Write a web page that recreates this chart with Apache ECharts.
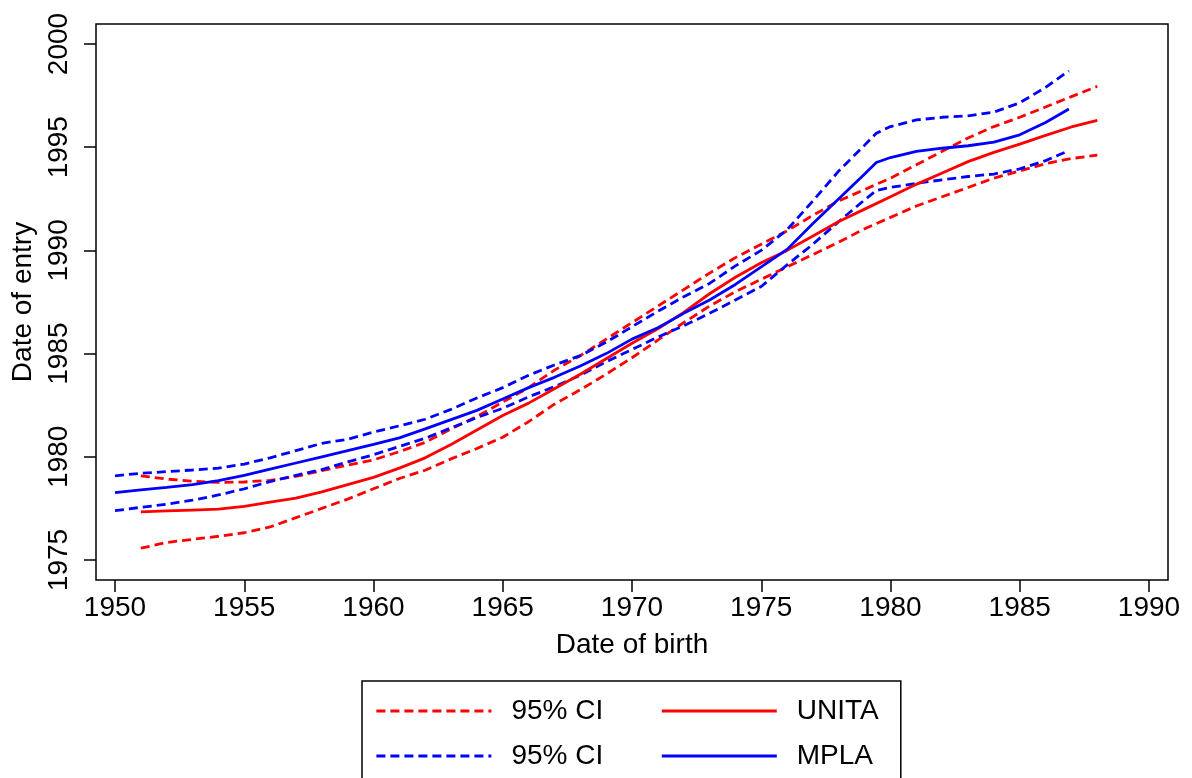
<!DOCTYPE html>
<html>
<head>
<meta charset="utf-8">
<script src="https://cdn.jsdelivr.net/npm/echarts@6/dist/echarts.min.js"></script>
<style>
  html, body { margin: 0; padding: 0; background: #fff; }
  #chart { width: 1192px; height: 778px; }
</style>
</head>
<body>
<div id="chart"></div>
<script>
// 出生年份 (x)
var unitaYears = [1951, 1952, 1953, 1954, 1955, 1956, 1957, 1958, 1959, 1960,
  1961, 1962, 1963, 1964, 1965, 1966, 1967, 1968, 1969, 1970,
  1971, 1972, 1973, 1974, 1975, 1976, 1977, 1978, 1979, 1980,
  1981, 1982, 1983, 1984, 1985, 1986, 1987, 1988];
var unitaFit = [1977.33, 1977.38, 1977.42, 1977.46, 1977.6, 1977.8, 1978.0, 1978.3, 1978.65, 1979.0,
  1979.45, 1979.95, 1980.6, 1981.3, 1982.0, 1982.6, 1983.3, 1984.0, 1984.75, 1985.5,
  1986.2, 1987.0, 1987.9, 1988.7, 1989.4, 1990.0, 1990.7, 1991.4, 1992.0, 1992.6,
  1993.2, 1993.75, 1994.3, 1994.75, 1995.15, 1995.57, 1995.98, 1996.3];
var unitaUpper = [1979.08, 1978.92, 1978.82, 1978.76, 1978.78, 1978.86, 1979.05, 1979.33, 1979.6, 1979.85,
  1980.25, 1980.7, 1981.35, 1981.95, 1982.65, 1983.35, 1984.2, 1984.9, 1985.7, 1986.5,
  1987.3, 1988.1, 1988.9, 1989.65, 1990.3, 1990.95, 1991.7, 1992.4, 1992.95, 1993.5,
  1994.15, 1994.8, 1995.45, 1996.0, 1996.45, 1996.95, 1997.45, 1997.95];
var unitaLower = [1975.57, 1975.85, 1976.0, 1976.15, 1976.32, 1976.6, 1977.05, 1977.5, 1977.95, 1978.45,
  1978.95, 1979.35, 1979.9, 1980.4, 1980.95, 1981.7, 1982.55, 1983.25, 1984.0, 1984.8,
  1985.65, 1986.5, 1987.3, 1988.0, 1988.6, 1989.2, 1989.8, 1990.4, 1991.05, 1991.6,
  1992.15, 1992.6, 1993.05, 1993.5, 1993.85, 1994.2, 1994.45, 1994.62];

var mplaYears = [1950, 1951, 1952, 1953, 1954, 1955, 1956, 1957, 1958, 1959,
  1960, 1961, 1962, 1963, 1964, 1965, 1966, 1967, 1968, 1969,
  1970, 1971, 1972, 1973, 1974, 1975, 1976, 1977, 1978, 1979,
  1979.45, 1980, 1981, 1982, 1983, 1984, 1985, 1986, 1986.9];
var mplaFit = [1978.26, 1978.4, 1978.52, 1978.65, 1978.85, 1979.1, 1979.4, 1979.7, 1980.0, 1980.3,
  1980.6, 1980.92, 1981.35, 1981.8, 1982.25, 1982.8, 1983.35, 1983.85, 1984.4, 1985.0,
  1985.7, 1986.25, 1986.95, 1987.6, 1988.35, 1989.2, 1990.05, 1991.3, 1992.5, 1993.7,
  1994.26, 1994.5, 1994.8, 1994.95, 1995.07, 1995.25, 1995.6, 1996.2, 1996.85];
var mplaUpper = [1979.08, 1979.2, 1979.28, 1979.36, 1979.45, 1979.65, 1979.95, 1980.3, 1980.65, 1980.85,
  1981.2, 1981.5, 1981.82, 1982.3, 1982.85, 1983.35, 1983.95, 1984.45, 1984.9, 1985.55,
  1986.3, 1987.05, 1987.75, 1988.4, 1989.25, 1990.0, 1991.0, 1992.4, 1993.85, 1995.1,
  1995.68, 1996.0, 1996.32, 1996.45, 1996.52, 1996.7, 1997.15, 1997.9, 1998.7];
var mplaLower = [1977.39, 1977.55, 1977.7, 1977.9, 1978.15, 1978.45, 1978.8, 1979.1, 1979.38, 1979.75,
  1980.1, 1980.5, 1980.9, 1981.4, 1981.9, 1982.35, 1982.9, 1983.4, 1983.95, 1984.6,
  1985.2, 1985.8, 1986.35, 1986.95, 1987.6, 1988.25, 1989.3, 1990.3, 1991.4, 1992.45,
  1992.9, 1993.05, 1993.25, 1993.42, 1993.58, 1993.7, 1993.95, 1994.35, 1994.83];

var xTicks = [1950, 1990, 5];
var yTicks = [1975, 2000, 5];

var FONT = 'Liberation Sans, Arial, Helvetica, sans-serif';
var RED = '#ff0000';
var BLUE = '#0000ff';
var DASH = [9, 5];

function pairs(xs, ys) {
  return xs.map(function(x, i) { return [x, ys[i]]; });
}

function lineSeries(name, xs, ys, color, dashed) {
  return {
    name: name,
    type: 'line',
    xAxisIndex: 1,
    yAxisIndex: 1,
    data: pairs(xs, ys),
    symbol: 'none',
    smooth: false,
    silent: true,
    lineStyle: { color: color, width: 2.8, type: dashed ? DASH : 'solid' },
    itemStyle: { color: color }
  };
}

// 年份不加千位分隔符
function plainYear(v) {
  return String(v);
}

var chart = echarts.init(document.getElementById('chart'), null, { renderer: 'canvas' });

var labelStyle = { color: '#000', fontSize: 28, fontFamily: FONT };

chart.setOption({
  backgroundColor: '#fff',
  animation: false,
  grid: [
    // 外框
    { left: 96, top: 24, width: 1072, height: 556, show: true,
      borderColor: '#000', borderWidth: 1.5, backgroundColor: 'transparent' },
    // 坐标轴所在区域
    { left: 115, top: 44, width: 1034, height: 516 }
  ],
  xAxis: [
    { gridIndex: 0, type: 'value', show: false, min: 0, max: 1 },
    {
      gridIndex: 1, type: 'value',
      min: xTicks[0], max: xTicks[1], interval: xTicks[2],
      offset: 20,
      axisLine: { show: false },
      axisTick: { show: true, length: 12, lineStyle: { color: '#000', width: 1.5 } },
      axisLabel: Object.assign({ margin: 14, formatter: plainYear }, labelStyle),
      splitLine: { show: false },
      name: 'Date of birth',
      nameLocation: 'middle',
      nameGap: 51,
      nameTextStyle: labelStyle
    }
  ],
  yAxis: [
    { gridIndex: 0, type: 'value', show: false, min: 0, max: 1 },
    {
      gridIndex: 1, type: 'value',
      min: yTicks[0], max: yTicks[1], interval: yTicks[2],
      offset: 19,
      axisLine: { show: false },
      axisTick: { show: true, length: 12, lineStyle: { color: '#000', width: 1.5 } },
      axisLabel: Object.assign({ margin: 23, rotate: 90, formatter: plainYear }, labelStyle),
      splitLine: { show: false },
      name: 'Date of entry',
      nameLocation: 'middle',
      nameGap: 56,
      nameRotate: 90,
      nameTextStyle: labelStyle
    }
  ],
  legend: {
    left: 362,
    top: 681,
    width: 525,
    orient: 'horizontal',
    padding: [16, 4, 30, 13],
    itemWidth: 115,
    itemHeight: 14,
    itemGap: 17,
    borderColor: '#000',
    borderWidth: 1.5,
    selectedMode: false,
    itemStyle: { opacity: 0 },
    lineStyle: { width: 2.8 },
    data: [
      { name: 'UNITA CI' },
      { name: 'UNITA', textStyle: { width: 100 } },
      { name: 'MPLA CI' },
      { name: 'MPLA', textStyle: { width: 100 } }
    ],
    formatter: function(name) {
      return /CI$/.test(name) ? '95% CI' : name;
    },
    textStyle: {
      color: '#000', fontSize: 28, fontFamily: FONT, lineHeight: 28,
      width: 132, padding: [0, 0, 0, 15]
    }
  },
  series: [
    lineSeries('UNITA CI', unitaYears, unitaUpper, RED, true),
    lineSeries('UNITA CI', unitaYears, unitaLower, RED, true),
    lineSeries('MPLA CI', mplaYears, mplaUpper, BLUE, true),
    lineSeries('MPLA CI', mplaYears, mplaLower, BLUE, true),
    lineSeries('UNITA', unitaYears, unitaFit, RED, false),
    lineSeries('MPLA', mplaYears, mplaFit, BLUE, false)
  ]
});
</script>
</body>
</html>
